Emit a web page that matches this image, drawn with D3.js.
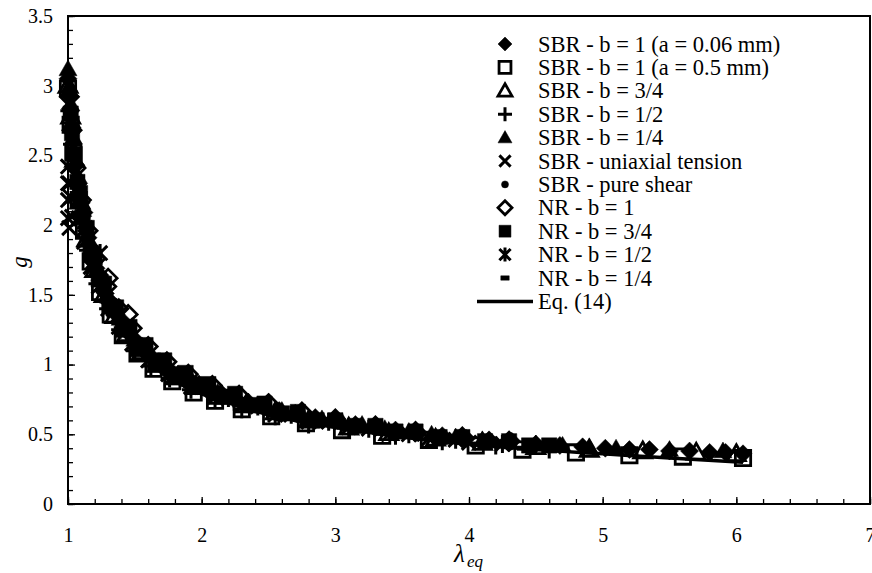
<!DOCTYPE html>
<html>
<head>
<meta charset="utf-8">
<script src="https://cdn.jsdelivr.net/npm/d3@7"></script>
<style>
  html, body { margin: 0; padding: 0; background: #fff; }
  svg { display: block; }
</style>
</head>
<body>
<svg id="chart" width="872" height="573"></svg>
<script>
// ---------------- data ----------------
const xTicks = [1, 2, 3, 4, 5, 6, 7];
const yTicks = [0, 0.5, 1, 1.5, 2, 2.5, 3, 3.5];
const yTickLabels = ["0", "0.5", "1", "1.5", "2", "2.5", "3", "3.5"];

const seriesNames = [
  "SBR - b = 1 (a = 0.06 mm)", "SBR - b = 1 (a = 0.5 mm)", "SBR - b = 3/4",
  "SBR - b = 1/2", "SBR - b = 1/4", "SBR - uniaxial tension", "SBR - pure shear",
  "NR - b = 1", "NR - b = 3/4", "NR - b = 1/2", "NR - b = 1/4"
];
const seriesMarkers = ["diamond", "squareOpen", "triangleOpen", "plus", "triangle",
  "cross", "circle", "diamondOpen", "square", "asterisk", "dash"];

const sbrB1a006_x = [1.00, 1.01, 1.03, 1.06, 1.10, 1.15, 1.21, 1.28, 1.36, 1.45, 1.56, 1.68, 1.82, 1.98, 2.15, 2.35, 2.58, 2.85, 3.15, 3.45, 3.80, 4.15, 4.50, 4.85, 5.20, 5.50, 5.80, 6.05,
  1.02, 1.08, 1.12, 1.18, 1.24, 1.32, 1.40, 1.50, 1.62, 1.75, 1.90, 2.06, 2.25, 2.46, 2.70, 3.00, 3.30, 3.62, 3.98, 4.32, 4.68, 5.02, 5.35, 5.65, 5.92];
const sbrB1a006_g = [3.05, 2.93, 2.70, 2.43, 2.16, 1.91, 1.69, 1.51, 1.36, 1.23, 1.11, 1.02, 0.93, 0.86, 0.79, 0.73, 0.67, 0.62, 0.57, 0.53, 0.49, 0.46, 0.43, 0.41, 0.39, 0.38, 0.37, 0.36,
  2.82, 2.30, 2.09, 1.83, 1.64, 1.45, 1.32, 1.18, 1.06, 0.97, 0.89, 0.83, 0.76, 0.70, 0.65, 0.60, 0.55, 0.51, 0.47, 0.45, 0.42, 0.40, 0.39, 0.38, 0.37];

const sbrB1a05_x = [1.00, 1.02, 1.04, 1.08, 1.12, 1.17, 1.24, 1.32, 1.41, 1.52, 1.64, 1.78, 1.94, 2.10, 2.30, 2.52, 2.78, 3.05, 3.35, 3.70, 4.05, 4.40, 4.80, 5.20, 5.60, 6.05];
const sbrB1a05_g = [2.98, 2.72, 2.52, 2.18, 1.96, 1.74, 1.52, 1.36, 1.21, 1.08, 0.97, 0.88, 0.80, 0.74, 0.68, 0.63, 0.58, 0.53, 0.49, 0.46, 0.42, 0.39, 0.37, 0.35, 0.34, 0.33];

const sbrB34_x = [1.00, 1.02, 1.05, 1.09, 1.14, 1.20, 1.27, 1.35, 1.44, 1.55, 1.67, 1.80, 1.96, 2.13, 2.33, 2.55, 2.80, 3.10, 3.40, 3.75, 4.10, 4.50, 4.90, 5.30, 5.70, 6.00];
const sbrB34_g = [3.00, 2.78, 2.47, 2.17, 1.90, 1.68, 1.50, 1.35, 1.22, 1.09, 1.00, 0.91, 0.84, 0.77, 0.71, 0.66, 0.60, 0.55, 0.51, 0.47, 0.44, 0.41, 0.39, 0.38, 0.37, 0.36];

const sbrB12_x = [1.01, 1.03, 1.06, 1.10, 1.15, 1.22, 1.30, 1.39, 1.50, 1.62, 1.76, 1.92, 2.10, 2.30, 2.55, 2.80, 3.10, 3.45, 3.80, 4.20, 4.60];
const sbrB12_g = [2.82, 2.58, 2.32, 2.06, 1.82, 1.58, 1.40, 1.25, 1.10, 0.99, 0.90, 0.82, 0.75, 0.68, 0.63, 0.57, 0.53, 0.49, 0.45, 0.42, 0.39];

const sbrB14_x = [1.00, 1.01, 1.02, 1.04, 1.07, 1.11, 1.16, 1.22, 1.30, 1.39, 1.50, 1.62, 1.76, 1.93, 2.12, 2.35, 2.60, 2.90, 3.20, 3.55, 3.90, 4.30, 4.70, 5.10, 5.50, 5.90,
  1.03, 1.09, 1.13, 1.19, 1.26, 1.34, 1.44, 1.56, 1.69, 1.84, 2.02, 2.23, 2.47, 2.75, 3.05, 3.37, 3.72, 4.10, 4.50, 4.90];
const sbrB14_g = [3.12, 3.00, 2.87, 2.63, 2.36, 2.11, 1.89, 1.69, 1.49, 1.33, 1.18, 1.07, 0.97, 0.88, 0.80, 0.73, 0.67, 0.61, 0.57, 0.52, 0.48, 0.45, 0.42, 0.40, 0.39, 0.38,
  2.74, 2.24, 2.02, 1.78, 1.57, 1.41, 1.26, 1.12, 1.02, 0.92, 0.84, 0.77, 0.70, 0.64, 0.59, 0.54, 0.50, 0.46, 0.43, 0.41];

const sbrUni_x = [1.00, 1.00, 1.00, 1.00, 1.01, 1.01, 1.02, 1.03, 1.05, 1.08, 1.12, 1.17, 1.23, 1.30, 1.38, 1.48, 1.60, 1.75, 1.92, 2.10, 2.30, 2.55, 2.80, 3.10, 3.40, 3.70, 4.00];
const sbrUni_g = [2.42, 2.30, 2.18, 2.05, 2.30, 1.98, 2.20, 2.06, 2.25, 2.05, 1.88, 1.70, 1.56, 1.40, 1.27, 1.15, 1.03, 0.93, 0.84, 0.77, 0.71, 0.64, 0.59, 0.55, 0.50, 0.47, 0.44];

const sbrShear_x = [1.02, 1.05, 1.10, 1.16, 1.24, 1.33, 1.44, 1.57, 1.72, 1.90, 2.10, 2.35, 2.60, 2.90, 3.20, 3.50, 3.85, 4.20];
const sbrShear_g = [2.75, 2.45, 2.10, 1.82, 1.58, 1.38, 1.22, 1.08, 0.97, 0.87, 0.79, 0.71, 0.65, 0.59, 0.55, 0.50, 0.46, 0.43];

const nrB1_x = [1.01, 1.03, 1.06, 1.10, 1.15, 1.21, 1.29, 1.30, 1.38, 1.45, 1.48, 1.60, 1.74, 1.90, 2.08, 2.28, 2.50, 2.75, 3.00, 3.30, 3.60, 3.95, 4.30];
const nrB1_g = [2.92, 2.68, 2.41, 2.18, 1.96, 1.76, 1.56, 1.62, 1.40, 1.36, 1.26, 1.13, 1.02, 0.93, 0.85, 0.78, 0.72, 0.66, 0.61, 0.56, 0.52, 0.48, 0.45];

const nrB34_x = [1.02, 1.05, 1.09, 1.14, 1.20, 1.27, 1.36, 1.46, 1.58, 1.72, 1.88, 2.05, 2.25, 2.47, 2.72, 3.00, 3.30, 3.60, 3.95, 4.30, 4.60,
  1.03, 1.07, 1.11, 1.17, 1.23, 1.31, 1.41, 1.52, 1.65, 1.80, 1.96, 2.15, 2.36, 2.60, 2.86, 3.15, 3.45, 3.78, 4.12, 4.45];
const nrB34_g = [2.80, 2.51, 2.23, 1.98, 1.77, 1.58, 1.41, 1.27, 1.14, 1.03, 0.94, 0.86, 0.79, 0.72, 0.66, 0.60, 0.56, 0.52, 0.48, 0.45, 0.42,
  2.66, 2.31, 2.06, 1.80, 1.61, 1.42, 1.25, 1.11, 1.00, 0.91, 0.84, 0.77, 0.71, 0.65, 0.60, 0.56, 0.52, 0.48, 0.45, 0.42];

const nrB12_x = [1.01, 1.04, 1.08, 1.13, 1.19, 1.24, 1.26, 1.34, 1.44, 1.55, 1.68, 1.83, 2.00, 2.20, 2.42, 2.67, 2.95, 3.25, 3.55, 3.90, 4.25];
const nrB12_g = [2.88, 2.55, 2.25, 1.98, 1.74, 1.80, 1.57, 1.40, 1.26, 1.13, 1.02, 0.92, 0.84, 0.76, 0.70, 0.64, 0.59, 0.54, 0.50, 0.46, 0.43];

const nrB14_x = [1.00, 1.02, 1.05, 1.09, 1.14, 1.20, 1.28, 1.37, 1.47, 1.59, 1.73, 1.89, 2.07, 2.27, 2.50, 2.75, 3.05, 3.35, 3.70, 4.05, 4.40];
const nrB14_g = [3.05, 2.73, 2.42, 2.14, 1.89, 1.67, 1.47, 1.31, 1.17, 1.05, 0.95, 0.86, 0.78, 0.71, 0.65, 0.60, 0.55, 0.51, 0.47, 0.43, 0.40];

const eqX = [1.00, 1.02, 1.05, 1.10, 1.15, 1.20, 1.30, 1.40, 1.50, 1.60, 1.80, 2.00, 2.25, 2.50, 2.75, 3.00, 3.50, 4.00, 4.50, 5.00, 5.50, 6.05];
const eqG = [3.05, 2.78, 2.46, 2.10, 1.86, 1.68, 1.42, 1.25, 1.12, 1.02, 0.88, 0.79, 0.71, 0.64, 0.59, 0.55, 0.48, 0.43, 0.39, 0.36, 0.33, 0.30];
const eqName = "Eq. (14)";

const seriesX = [sbrB1a006_x, sbrB1a05_x, sbrB34_x, sbrB12_x, sbrB14_x, sbrUni_x, sbrShear_x, nrB1_x, nrB34_x, nrB12_x, nrB14_x];
const seriesG = [sbrB1a006_g, sbrB1a05_g, sbrB34_g, sbrB12_g, sbrB14_g, sbrUni_g, sbrShear_g, nrB1_g, nrB34_g, nrB12_g, nrB14_g];

// ---------------- layout ----------------
const FONT = "Liberation Serif";
const svg = d3.select("#chart");
const L = 68, R = 870, T = 16, B = 504;
const x = d3.scaleLinear().domain([1, 7]).range([L, R]);
const y = d3.scaleLinear().domain([0, 3.5]).range([B, T]);

function markerPath(type, s) {
  switch (type) {
    case "diamond": case "diamondOpen":
      return `M0,${-s}L${s},0L0,${s}L${-s},0Z`;
    case "square": case "squareOpen":
      return `M${-s * 0.85},${-s * 0.85}H${s * 0.85}V${s * 0.85}H${-s * 0.85}Z`;
    case "triangle": case "triangleOpen":
      return `M0,${-s}L${s},${s * 0.75}L${-s},${s * 0.75}Z`;
    case "plus":
      return `M${-s},0H${s}M0,${-s}V${s}`;
    case "cross":
      return `M${-s * 0.8},${-s * 0.8}L${s * 0.8},${s * 0.8}M${-s * 0.8},${s * 0.8}L${s * 0.8},${-s * 0.8}`;
    case "asterisk":
      return `M${-s * 0.8},${-s * 0.8}L${s * 0.8},${s * 0.8}M${-s * 0.8},${s * 0.8}L${s * 0.8},${-s * 0.8}M0,${-s}V${s}`;
    case "dash":
      return `M${-s * 0.6},-2.2H${s * 0.6}V2.2H${-s * 0.6}Z`;
    case "circle":
      return d3.arc()({innerRadius: 0, outerRadius: s * 0.5, startAngle: 0, endAngle: 2 * Math.PI});
  }
}
function styleMarker(sel, type) {
  const filled = ["diamond", "square", "triangle", "dash", "circle"].includes(type);
  const open = ["diamondOpen", "squareOpen", "triangleOpen"].includes(type);
  sel.attr("fill", filled ? "#000" : "none")
     .attr("stroke", "#000")
     .attr("stroke-width", filled ? 0.5 : (open ? 2.8 : 3))
     .attr("stroke-linejoin", "miter");
}

// frame
svg.append("rect").attr("x", L).attr("y", T).attr("width", R - L).attr("height", B - T)
  .attr("fill", "none").attr("stroke", "#000").attr("stroke-width", 2);

// ticks (inward)
const gx = svg.append("g").attr("transform", `translate(0,${B})`);
gx.call(d3.axisBottom(x).tickValues(d3.range(1, 7.001, 0.2)).tickSize(-5).tickFormat(""));
const gx2 = svg.append("g").attr("transform", `translate(0,${B})`);
gx2.call(d3.axisBottom(x).tickValues(xTicks).tickSize(-7).tickPadding(24).tickFormat(d3.format("d")));
const gy = svg.append("g").attr("transform", `translate(${L},0)`);
gy.call(d3.axisLeft(y).tickValues(d3.range(0, 3.5001, 0.1)).tickSize(-5).tickFormat(""));
const gy2 = svg.append("g").attr("transform", `translate(${L},0)`);
gy2.call(d3.axisLeft(y).tickValues(yTicks).tickSize(-7).tickPadding(15).tickFormat((d, i) => yTickLabels[i]));
[gx, gx2, gy, gy2].forEach(g => {
  g.select(".domain").remove();
  g.attr("font-family", null).attr("font-size", null);
});
svg.selectAll(".tick line").attr("stroke", "#000").attr("stroke-width", 1.3);
svg.selectAll(".tick text").style("font-family", FONT).style("font-size", "20px").attr("fill", "#000");

// Eq. line
const line = d3.line().x((d, i) => x(eqX[i])).y((d, i) => y(eqG[i])).curve(d3.curveMonotoneX);
svg.append("path").attr("d", line(eqX)).attr("fill", "none").attr("stroke", "#000").attr("stroke-width", 3.5);

// markers
const ms = 9;
seriesX.forEach((xs, si) => {
  const type = seriesMarkers[si];
  const g = svg.append("g");
  const pts = xs.map((v, i) => [v, seriesG[si][i]]);
  g.selectAll("path").data(pts).join("path")
    .attr("transform", d => `translate(${x(d[0])},${y(d[1])})`)
    .attr("d", markerPath(type, ms))
    .call(styleMarker, type);
});

// legend
const legY0 = 44, legDY = 23.4, legMX = 505, legTX = 538;
seriesNames.forEach((name, i) => {
  const yy = legY0 + i * legDY;
  const type = seriesMarkers[i];
  svg.append("path").attr("transform", `translate(${legMX},${yy})`)
    .attr("d", markerPath(type, 7)).call(styleMarker, type);
  svg.append("text").attr("x", legTX).attr("y", yy + 7.5)
    .style("font-family", FONT).style("font-size", "22.5px").text(name);
});
const eqY = legY0 + 11 * legDY;
svg.append("line").attr("x1", 477).attr("x2", 533).attr("y1", eqY).attr("y2", eqY)
  .attr("stroke", "#000").attr("stroke-width", 3.5);
svg.append("text").attr("x", legTX).attr("y", eqY + 7.5)
  .style("font-family", FONT).style("font-size", "22.5px").text(eqName);

// axis titles
svg.append("text").attr("transform", "translate(27,262) rotate(-90)")
  .style("font-family", FONT).style("font-size", "23px").style("font-style", "italic")
  .attr("text-anchor", "middle").text("g");
svg.append("text").attr("x", 454).attr("y", 562)
  .style("font-family", FONT).style("font-size", "25px").style("font-style", "italic").text("λ");
svg.append("text").attr("x", 467).attr("y", 567)
  .style("font-family", FONT).style("font-size", "17px").style("font-style", "italic").text("eq");
</script>
</body>
</html>
